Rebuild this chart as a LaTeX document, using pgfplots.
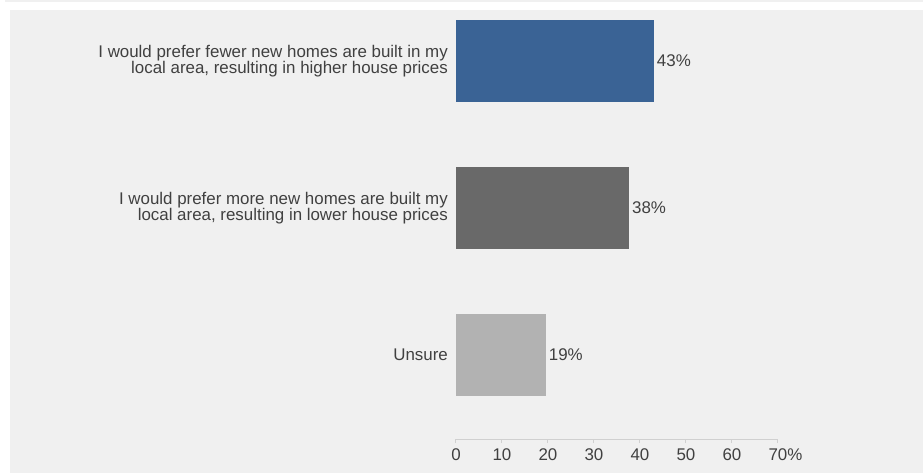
\documentclass[border=0pt]{standalone}
\usepackage{pgfplots}
\pgfplotsset{compat=1.18}
\usepackage{fontspec}
\setmainfont{Liberation Sans}
\definecolor{bgcol}{HTML}{F0F0F0}
\definecolor{barblue}{HTML}{3A6395}
\definecolor{bardark}{HTML}{696969}
\definecolor{barlight}{HTML}{B2B2B2}
\definecolor{txt}{HTML}{404040}
\definecolor{axcol}{HTML}{D0D0D0}
\begin{document}
\begin{tikzpicture}[font=\fontsize{16.9bp}{16bp}\selectfont]
\path[use as bounding box, fill=white] (-456bp,-34bp) rectangle (467bp,439bp);
\fill[bgcol] (-446bp,-34bp) rectangle (467bp,429bp);
\fill[bgcol] (-451bp,437bp) rectangle (467bp,439bp);
\begin{axis}[
  at={(0,0)}, anchor=south west, scale only axis,
  width=322bp, height=429bp,
  xmin=0, xmax=70, ymin=-0.571, ymax=2.347,
  axis x line=bottom, axis y line=left,
  x axis line style={-, draw=axcol, line width=1pt},
  y axis line style={draw=none},
  xtick={0,10,...,70},
  xticklabels={0,10,20,30,40,50,60,70\rlap{\%}},
  x tick style={draw=axcol, line width=1pt},
  tick align=outside, major tick length=4bp,
  ytick={0,1,2},
  yticklabels={Unsure,
    {I would prefer more new homes are built my\\local area, resulting in lower house prices},
    {I would prefer fewer new homes are built in my\\local area, resulting in higher house prices}},
  y tick style={draw=none},
  yticklabel style={align=right, text=txt, inner sep=0pt, xshift=-4bp},
  xticklabel style={text=txt, yshift=-2bp},
  xbar, bar width=82bp, bar shift=0pt,
  point meta=explicit symbolic,
  nodes near coords,
  every node near coord/.append style={anchor=west, text=txt, inner sep=0pt, xshift=3bp},
  clip=false,
]
\addplot[fill=barblue, draw=none] coordinates {(43,2) [43\%]};
\addplot[fill=bardark, draw=none] coordinates {(37.6,1) [38\%]};
\addplot[fill=barlight, draw=none] coordinates {(19.5,0) [19\%]};
\end{axis}
\end{tikzpicture}
\end{document}
